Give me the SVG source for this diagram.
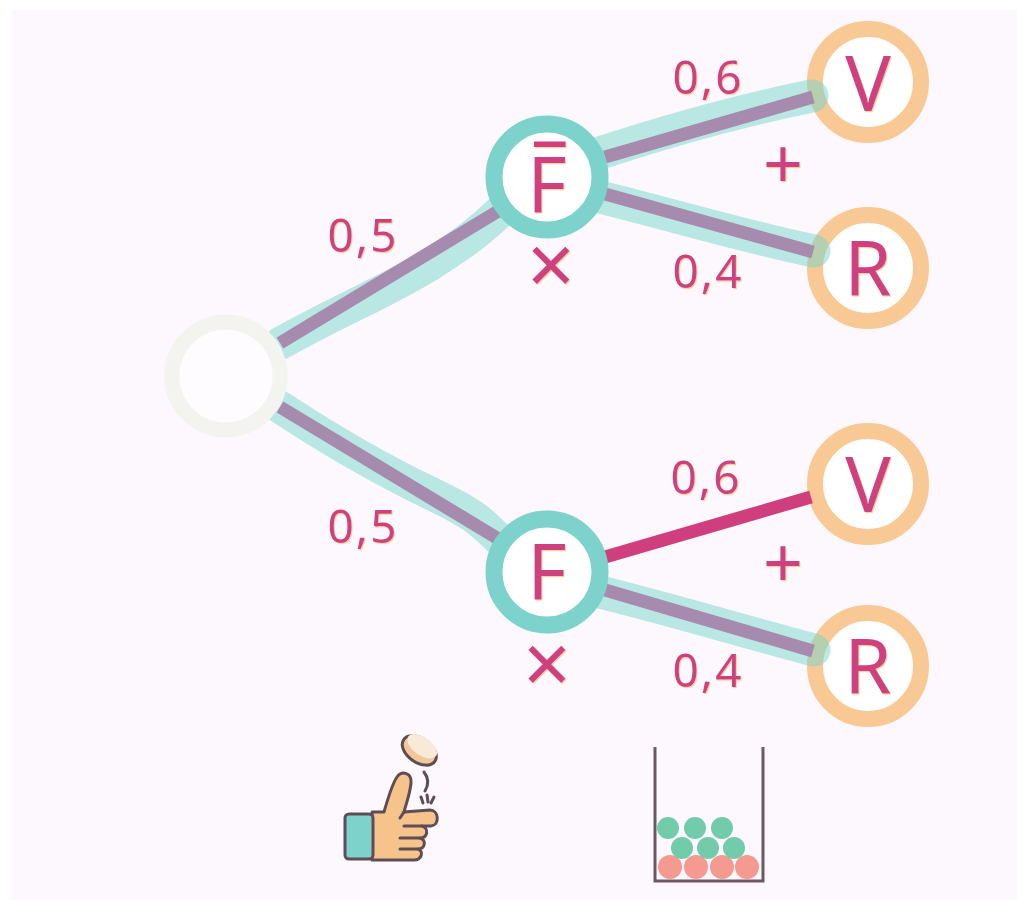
<svg xmlns="http://www.w3.org/2000/svg" width="1017" height="900" viewBox="0 0 1017 900">
  <defs>
    <filter id="glow" x="-10%" y="-10%" width="130%" height="130%">
      <feDropShadow dx="1" dy="1.2" stdDeviation="0.4" flood-color="#f6c99c" flood-opacity="0.9"/>
    </filter>
    <style>
      .lbl { font-family: "Noto Sans", "DejaVu Sans", sans-serif; fill: #cf3f7e; text-anchor: middle; filter: url(#glow); }
      .prob { font-size: 46px; letter-spacing: 2px; }
      .op { font-size: 70px; }
      .times { font-size: 84px; }
      .big { font-size: 76px; }
      .ring-t { fill: #ffffff; stroke: #7dd3cc; stroke-width: 17; }
      .ring-o { fill: #ffffff; stroke: #f8c994; stroke-width: 16; }
      .halo { fill: none; stroke: #74d6cc; stroke-opacity: 0.5; stroke-width: 33; stroke-linecap: round; stroke-linejoin: round; }
      .path { fill: none; stroke: #a68bae; stroke-width: 13; }
      .hit { fill: none; stroke: #cf3f7e; stroke-width: 13; }
      .ink { stroke: #5e4d55; stroke-width: 3; stroke-linejoin: round; stroke-linecap: round; }
      .skin { fill: #f6c48a; }
    </style>
  </defs>

  <!-- backdrop -->
  <rect x="0" y="0" width="1017" height="900" fill="#ffffff"/>
  <rect x="11" y="10" width="1006" height="890" fill="#fdf8fd"/>

  <!-- outcome nodes (drawn under the branches) -->
  <g id="node-v1">
    <circle class="ring-o" cx="868" cy="82" r="53"/>
    <text class="lbl big" x="868" y="111">V</text>
  </g>
  <g id="node-r1">
    <circle class="ring-o" cx="868" cy="268" r="53"/>
    <text class="lbl big" x="868" y="296">R</text>
  </g>
  <g id="node-v2">
    <circle class="ring-o" cx="868" cy="484" r="53"/>
    <text class="lbl big" x="868" y="512">V</text>
  </g>
  <g id="node-r2">
    <circle class="ring-o" cx="868" cy="666" r="53"/>
    <text class="lbl big" x="868" y="694">R</text>
  </g>

  <!-- branches -->
  <g id="connectors">
    <path class="halo" d="M281,343 C340,310 392,289 434,262 S482,228 503,209"/>
    <path class="halo" d="M280,407 C330,440 382,470 432,494 S482,524 500,540"/>
    <path class="halo" d="M603,152 C680,127 742,110 812,96"/>
    <path class="halo" d="M600,197 C680,217 742,236 814,251"/>
    <path class="halo" d="M600,592 C680,612 742,631 814,650"/>

    <line class="path" x1="280" y1="343" x2="500" y2="210"/>
    <line class="path" x1="280" y1="407" x2="497" y2="538"/>
    <line class="path" x1="605" y1="157" x2="813" y2="97"/>
    <line class="path" x1="605" y1="194" x2="813" y2="252"/>
    <line class="path" x1="605" y1="590" x2="813" y2="651"/>
    <line class="hit" x1="605" y1="557" x2="811" y2="497"/>
  </g>

  <!-- root and first-level nodes -->
  <g id="node-root">
    <circle cx="226" cy="376" r="54" fill="#fefcfe" stroke="#f3f3ef" stroke-width="15"/>
  </g>
  <g id="node-fbar">
    <circle class="ring-t" cx="547" cy="177" r="53"/>
    <text class="lbl big" x="547" y="212">F&#x0305;</text>
  </g>
  <g id="node-f">
    <circle class="ring-t" cx="547" cy="572" r="53"/>
    <text class="lbl big" x="547" y="599">F</text>
  </g>

  <!-- probabilities and operators -->
  <g id="labels">
    <text class="lbl prob" x="363" y="252">0,5</text>
    <text class="lbl prob" x="363" y="543">0,5</text>
    <text class="lbl prob" x="708" y="94">0,6</text>
    <text class="lbl prob" x="708" y="288">0,4</text>
    <text class="lbl prob" x="706" y="494">0,6</text>
    <text class="lbl prob" x="708" y="687">0,4</text>
    <text class="lbl op" x="783" y="189">+</text>
    <text class="lbl op" x="783" y="588">+</text>
    <text class="lbl times" x="551" y="295">×</text>
    <text class="lbl times" x="547" y="694">×</text>
  </g>

  <!-- coin flip icon -->
  <g id="icon-coin">
    <g transform="rotate(35 421 748)">
      <ellipse cx="421" cy="751" rx="19" ry="12" fill="#f0c89a" class="ink"/>
      <ellipse cx="421" cy="746" rx="17" ry="9" fill="#f7ead9"/>
    </g>
    <path class="ink" fill="none" d="M424,772 Q431,781 425,791"/>
    <path class="ink" fill="none" d="M421,797 L423,803 M427,795 L428,802 M434,797 L431,803"/>
    <path class="ink skin" d="M372,812 L384,812 C388,798 392,784 397,777 C402,770 412,773 411,783 C410,794 406,804 404,812 L430,810 C439,810 440,825 431,826 L422,826 C429,828 428,838 420,838 C427,840 425,849 418,849 C424,851 422,860 414,860 L372,860 Z"/>
    <path class="ink" fill="none" d="M404,812 L400,818 M404,826 L422,826 M400,838 L420,838 M400,849 L418,849"/>
    <rect class="ink" x="345" y="814" width="28" height="45" rx="4" fill="#7dd3cc"/>
  </g>

  <!-- jar of balls icon -->
  <g id="icon-jar">
    <g fill="#f59a90">
      <circle cx="670" cy="867" r="12"/>
      <circle cx="696" cy="867" r="12"/>
      <circle cx="722" cy="867" r="12"/>
      <circle cx="747" cy="867" r="12"/>
    </g>
    <g fill="#72cbab">
      <circle cx="682" cy="848" r="11"/>
      <circle cx="708" cy="848" r="11"/>
      <circle cx="734" cy="848" r="11"/>
      <circle cx="668" cy="828" r="11"/>
      <circle cx="695" cy="828" r="11"/>
      <circle cx="722" cy="828" r="11"/>
    </g>
    <path d="M655,747 L655,881 L763,881 L763,747" fill="none" stroke="#6b5a62" stroke-width="3"/>
  </g>
</svg>
